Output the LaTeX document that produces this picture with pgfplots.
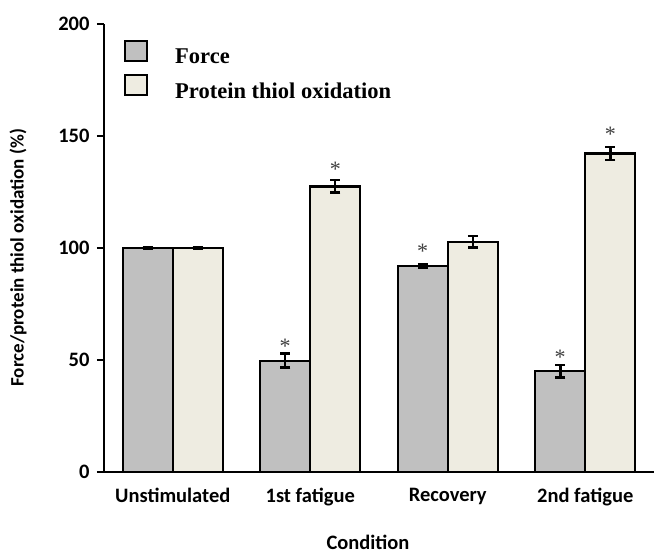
\documentclass[border=0pt]{standalone}
\usepackage{pgfplots}
\pgfplotsset{compat=1.18}
\usepackage{fontspec}
\setmainfont{Carlito}
\newfontfamily\timesfont{Liberation Serif}
\definecolor{forcegrey}{HTML}{C0C0C0}
\definecolor{cream}{HTML}{EEECE1}
\definecolor{stargrey}{HTML}{404040}
\pgfplotsset{boxlegend/.style={legend image code/.code={\draw[##1, line width=2.2pt] (0pt,-4pt) rectangle (22pt,16pt);}}}

\begin{document}
\begin{tikzpicture}
\useasboundingbox (-104pt,-83pt) rectangle (550pt,472pt);
\begin{axis}[
  at={(0,0)}, anchor=south west, scale only axis,
  width=550pt, height=448pt,
  xmin=-0.5, xmax=3.5, ymin=0, ymax=200,
  axis x line*=bottom, axis y line*=left,
  axis line style={line width=2pt, -},
  xtick={0,1,2,3},
  xticklabels={Unstimulated, 1st fatigue, Recovery, 2nd fatigue},
  x tick style={draw=none},
  extra x ticks={0.5,1.5,2.5}, extra x tick labels={},
  extra x tick style={tick style={draw=black, line width=2pt}, major tick length=7pt},
  ytick={0,50,100,150,200},
  y tick style={line width=2pt, black},
  tick align=outside, major tick length=7pt,
  tick label style={font=\bfseries\fontsize{20.5}{20.5}\selectfont},
  yticklabel style={xshift=-4pt},
  xticklabel style={yshift=-6pt},
  /pgf/number format/assume math mode=true,
  ylabel={Force/protein thiol oxidation (\%)},
  xlabel={Condition},
  xlabel style={font=\bfseries\fontsize{20.5}{20.5}\selectfont,
    at={(rel axis cs:0.48,0)}, anchor=center, yshift=-70pt},
  ylabel style={font=\bfseries\fontsize{19}{19}\selectfont,
    at={(rel axis cs:0,0.478)}, anchor=center, yshift=86pt},
  legend style={at={(rel axis cs:0.036,0.965)}, anchor=north west, draw=none, fill=none,
    font=\timesfont\bfseries\fontsize{22.5}{22.5}\selectfont,
    row sep=7pt, inner sep=0pt, /tikz/column 1/.style={column sep=25pt}},
  legend cell align=left,
  clip=false,
  ybar=0pt, bar width=50pt,
]
\addplot[fill=forcegrey, draw=black, line width=2.2pt, boxlegend,
  error bars/.cd, y dir=both, y explicit, error mark=|,
  error bar style={line width=2.5pt, black},
  error mark options={line width=2.5pt, mark size=5pt, black}]
  coordinates {(0,100) +- (0,0.3) (1,49.7) +- (0,3.1) (2,92) +- (0,0.9) (3,45) +- (0,2.8)};
\addlegendentry{Force}
\addplot[fill=cream, draw=black, line width=2.2pt, boxlegend,
  error bars/.cd, y dir=both, y explicit, error mark=|,
  error bar style={line width=2.5pt, black},
  error mark options={line width=2.5pt, mark size=5pt, black}]
  coordinates {(0,100) +- (0,0.3) (1,127.5) +- (0,2.8) (2,102.8) +- (0,2.6) (3,142.2) +- (0,3)};
\addlegendentry{Protein thiol oxidation}
\addplot[sharp plot, draw=none, mark=none, forget plot, bar shift=0pt,
  nodes near coords={*},
  every node near coord/.append style={anchor=center, text=stargrey, inner sep=0pt,
    font=\timesfont\fontsize{22}{22}\selectfont, yshift=-4pt}]
  coordinates {(0.818,58) (1.182,137) (1.818,100.4) (2.818,53.1) (3.182,152.4)};
\end{axis}
\end{tikzpicture}
\end{document}
